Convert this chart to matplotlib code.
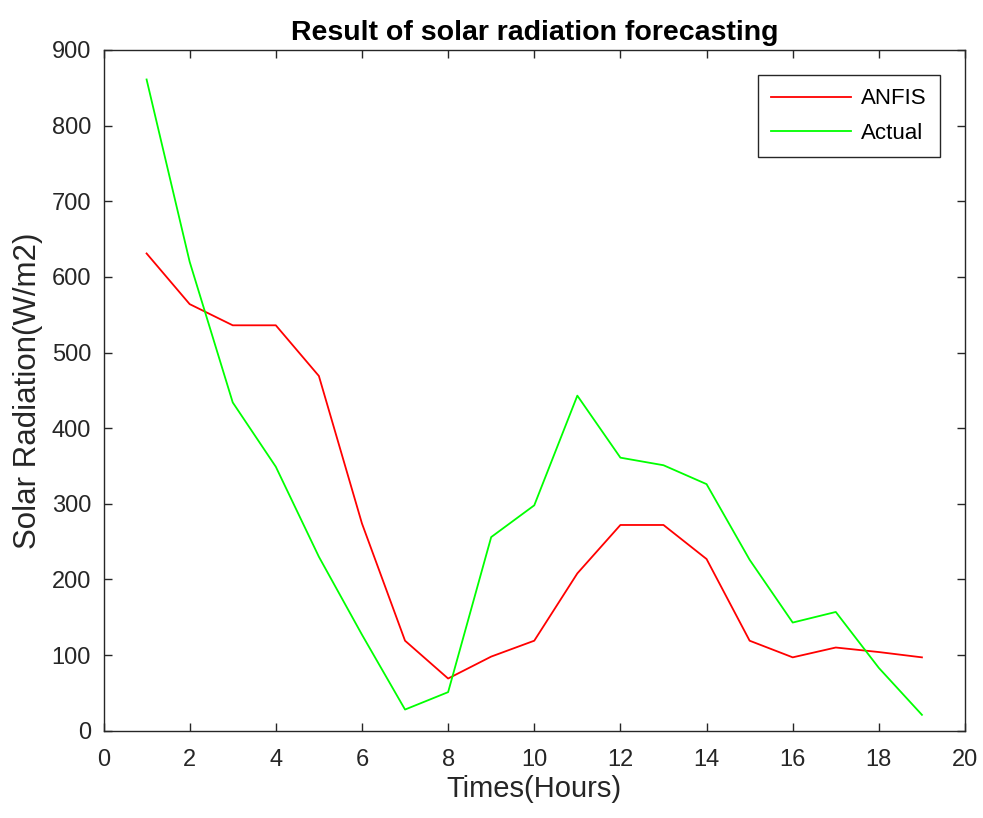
import numpy as np
import matplotlib
matplotlib.use('Agg')
import matplotlib.pyplot as plt

# data
hours = list(range(1, 20))
anfis = [631, 564, 536, 536, 469, 274, 119, 69, 98, 119, 208, 272, 272, 227, 119, 97, 110, 104, 97]
actual = [861, 620, 434, 349, 230, 127, 28, 51, 256, 298, 443, 361, 351, 326, 226, 143, 157, 83, 21]

plt.rcParams['font.family'] = ['Liberation Sans', 'DejaVu Sans']
axcol = '#262626'

fig = plt.figure(figsize=(9.83, 8.18), dpi=100)
ax = fig.add_axes([0.1053, 0.1067, 0.8764, 0.8322])
ax.plot(hours, anfis, color='#ff0000', lw=1.3, label='ANFIS')
ax.plot(hours, actual, color='#00ff00', lw=1.3, label='Actual')

ax.set_xlim(0, 20)
ax.set_ylim(0, 900)
ax.set_xticks(np.arange(0, 21, 2))
ax.set_yticks(np.arange(0, 901, 100))
ax.tick_params(direction='in', length=6, width=1, colors=axcol, labelsize=17,
               top=True, right=True, labeltop=False, labelright=False)
ax.tick_params(axis='x', pad=13)
ax.tick_params(axis='y', pad=9)
for s in ax.spines.values():
    s.set_color(axcol)
    s.set_linewidth(1)

ax.set_title('Result of solar radiation forecasting', fontsize=20.5, fontweight='bold', color='black', pad=7)
ax.set_xlabel('Times(Hours)', fontsize=21, color=axcol, labelpad=3)
ax.set_ylabel('Solar Radiation(W/m2)', fontsize=22.5, color=axcol, labelpad=6)

leg = ax.legend(loc='upper right', bbox_to_anchor=(0.971, 0.9633), borderaxespad=0, fontsize=16,
                fancybox=False, framealpha=1, edgecolor=axcol, handlelength=3.6, handletextpad=0.45,
                borderpad=0.6, labelspacing=0.6)
leg.get_frame().set_linewidth(1)

fig.savefig('out.png', dpi=100)
